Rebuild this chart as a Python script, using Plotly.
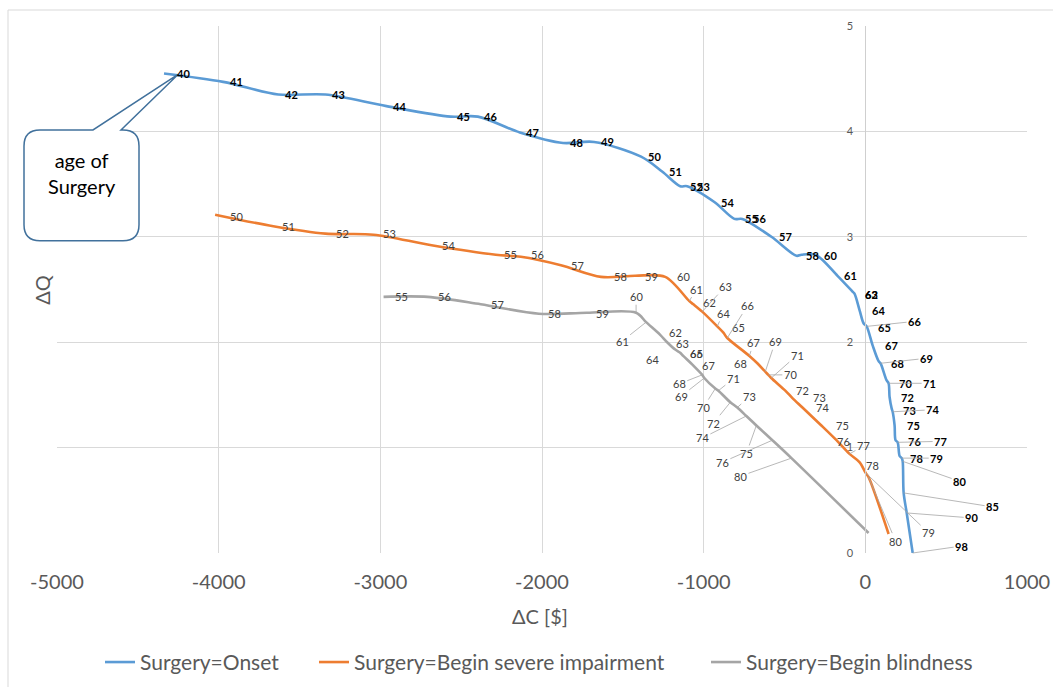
import plotly.graph_objects as go

# ---------------- data ----------------
onset_age = [40, 41, 42, 43, 44, 45, 46, 47, 48, 49, 50, 51, 52, 53, 54, 55, 56, 57, 58, 59,
             60, 61, 62, 63, 64, 65, 66, 67, 68, 69, 70, 71, 72, 73, 74, 75, 76, 77, 78, 79,
             80, 85, 90, 98]
onset_dC = [-4338, -3972, -3631, -3340, -2962, -2565, -2397, -2137, -1870, -1678, -1387, -1257,
            -1145, -1102, -934, -810, -761, -581, -426, -395, -308, -172, -79, -67, -35, -11, 8,
            45, 82, 94, 131, 144, 150, 163, 169, 181, 187, 200, 212, 225, 231, 237, 256, 293]
onset_dQ = [4.55, 4.47, 4.35, 4.35, 4.24, 4.14, 4.14, 3.99, 3.89, 3.90, 3.76, 3.62, 3.48, 3.48,
            3.33, 3.17, 3.17, 3.00, 2.82, 2.83, 2.83, 2.63, 2.48, 2.46, 2.30, 2.18, 2.15, 1.97,
            1.82, 1.80, 1.64, 1.61, 1.48, 1.37, 1.34, 1.21, 1.07, 1.05, 0.92, 0.90, 0.87, 0.57,
            0.38, 0.00]

severe_age = [50, 51, 52, 53, 54, 55, 56, 57, 58, 59, 60, 61, 62, 63, 64, 65, 66, 67, 68, 69,
              70, 71, 72, 73, 74, 75, 76, 77, 78, 79, 80, None]
severe_dC = [-4022, -3662, -3340, -3042, -2683, -2286, -2131, -1883, -1635, -1424, -1238, -1089,
             -1064, -1009, -916, -878, -854, -717, -668, -619, -600, -582, -495, -451, -389,
             -272, -185, -98, -35, 2, 20, 144]
severe_dQ = [3.21, 3.10, 3.03, 3.02, 2.92, 2.83, 2.81, 2.73, 2.62, 2.63, 2.62, 2.39, 2.36, 2.29,
             2.15, 2.09, 2.04, 1.87, 1.80, 1.72, 1.69, 1.66, 1.54, 1.47, 1.38, 1.21, 1.08, 0.94,
             0.86, 0.76, 0.72, 0.18]

blind_age = [55, 56, 57, 58, 59, 60, 61, 62, 63, 64, 65, 66, 67, 68, 69, 70, 71, 72, 73, 74,
             75, 76, 80, None]
blind_dC = [-2980, -2707, -2379, -2019, -1722, -1418, -1356, -1269, -1226, -1176, -1145, -1133,
            -1065, -1009, -996, -928, -909, -835, -792, -736, -674, -575, -457, 20]
blind_dQ = [2.43, 2.43, 2.36, 2.27, 2.28, 2.28, 2.19, 2.07, 2.00, 1.93, 1.90, 1.88, 1.78, 1.69,
            1.66, 1.56, 1.54, 1.43, 1.38, 1.30, 1.21, 1.07, 0.90, 0.19]

x_ticks = [-5000, -4000, -3000, -2000, -1000, 0, 1000]
x_tick_labels = ["-5000", "-4000", "-3000", "-2000", "-1000", "0", "1000"]
y_ticks = [0, 1, 2, 3, 4, 5]

series_names = ["Surgery=Onset", "Surgery=Begin severe impairment", "Surgery=Begin blindness"]

# ---------------- label placement (pixel offsets, styling only) ----------------
onset_lbl = {40: (19, 0), 52: (16, 0), 53: (16, 0), 55: (17, 0), 56: (17, 0), 57: (14, 0),
             58: (16, 0), 60: (15, 1), 62: (19, 3), 63: (17, 1), 64: (19, 0), 65: (21, 4),
             67: (19, 0), 68: (19, 2), 70: (19, 3), 72: (18, 0), 73: (18, 2), 75: (19, 0),
             76: (19, 1), 78: (17, 2),
             66: (48, -5), 69: (46, -5), 71: (41, 0), 74: (40, -2), 77: (43, -1), 79: (35, 0),
             80: (57, 20), 85: (89, 14), 90: (65, 5), 98: (49, -7)}
onset_leader = {66, 69, 71, 74, 77, 79, 80, 85, 90, 98}
onset_hidden = {59}

severe_lbl = {50: (21, 2), 51: (15, 0), 52: (17, 0), 53: (16, -1), 54: (17, 0), 55: (15, 0),
              56: (17, -2), 57: (17, 0), 58: (19, 0), 59: (16, 1), 60: (18, 0), 61: (7, -12),
              62: (16, -2), 63: (23, -25), 64: (6, -13), 65: (15, -5), 66: (20, -32),
              67: (4, -13), 68: (-17, 0), 69: (10, -30), 70: (22, 0), 71: (26, -23),
              72: (17, 0), 73: (27, -1), 74: (20, 0), 75: (21, 0), 76: (8, 2), 77: (14, -8),
              78: (13, 3), 79: (63, 60), 80: (27, 64)}
severe_leader = {61, 63, 64, 66, 67, 69, 70, 71, 77, 79, 80}

blind_lbl = {55: (18, 0), 56: (17, 0), 57: (17, 0), 58: (16, 0), 59: (16, 1), 60: (0, -16),
             61: (-24, 19), 62: (15, -2), 63: (15, 1), 64: (-23, 10), 65: (16, 1), 66: (14, -1),
             67: (15, 0), 68: (-23, 9), 69: (-23, 18), 70: (-12, 19), 71: (15, -12),
             72: (-17, 21), 73: (12, -11), 74: (-44, 22), 75: (-10, 28), 76: (-50, 22),
             80: (-51, 18)}
blind_leader = {60, 61, 68, 69, 70, 71, 72, 73, 74, 75, 76, 80}

colors = ["#5B9BD5", "#ED7D31", "#A5A5A5"]
legend_left_px = [100, 314, 706]
FONT = "Lato, 'Open Sans', sans-serif"

W, H = 1053, 687
ML, MR, MT, MB = 57, 26, 26, 133.5
PW, PH = W - ML - MR, H - MT - MB
XR, YR = [-5000, 1000], [0, 5]


def to_px(v, q):
    return (ML + (v - XR[0]) / (XR[1] - XR[0]) * PW, MT + (YR[1] - q) / (YR[1] - YR[0]) * PH)


def paper(px, py):
    return ((px - ML) / PW, (H - MB - py) / PH)


fig = go.Figure()
legend_keys = ["legend", "legend2", "legend3"]
for name, xs, ys, col, lk in zip(series_names, [onset_dC, severe_dC, blind_dC],
                                 [onset_dQ, severe_dQ, blind_dQ], colors, legend_keys):
    fig.add_trace(go.Scatter(x=xs, y=ys, mode="lines", name=name, legend=lk,
                             line=dict(color=col, width=2.6, shape="spline", smoothing=0.9),
                             hoverinfo="skip"))

annotations = []


def add_labels(ages, xs, ys, offs, leaders, hidden, font):
    for a, x, y in zip(ages, xs, ys):
        if a is None or a in hidden:
            continue
        dx, dy = offs.get(a, (13, 0))
        if a in leaders:
            annotations.append(dict(x=x, y=y, xref="x", yref="y", text=str(a), showarrow=True,
                                    arrowhead=0, arrowwidth=0.8, arrowcolor="#A6A6A6",
                                    ax=dx, ay=dy, standoff=0, font=font))
        else:
            annotations.append(dict(x=x, y=y, xref="x", yref="y", text=str(a), showarrow=False,
                                    xshift=dx, yshift=-dy, font=font))


add_labels(onset_age, onset_dC, onset_dQ, onset_lbl, onset_leader, onset_hidden,
           dict(family=FONT, size=11, color="#000000", weight="bold"))
add_labels(severe_age, severe_dC, severe_dQ, severe_lbl, severe_leader, set(),
           dict(family=FONT, size=11, color="#404040"))
add_labels(blind_age, blind_dC, blind_dQ, blind_lbl, blind_leader, set(),
           dict(family=FONT, size=11, color="#404040"))

# axis titles
tx, ty = paper(540, 617)
annotations.append(dict(x=tx, y=ty, xref="paper", yref="paper", text="ΔC [$]", showarrow=False,
                        xanchor="center", yanchor="middle",
                        font=dict(family=FONT, size=20, color="#595959")))
tx, ty = paper(42, 290)
annotations.append(dict(x=tx, y=ty, xref="paper", yref="paper", text="ΔQ", showarrow=False,
                        xanchor="center", yanchor="middle",
                        textangle=-90, font=dict(family=FONT, size=20, color="#595959")))

# callout "age of Surgery" pointing to first onset point
p40 = to_px(onset_dC[0], onset_dQ[0])
tip = (p40[0] + 14, p40[1] + 1)
L, R, T, B, rad = 24, 139, 130, 241, 16
pts = [("M", (L + rad, T)), ("L", (93, T)), ("L", tip), ("L", (121, T)), ("L", (R - rad, T)),
       ("Q", (R, T), (R, T + rad)), ("L", (R, B - rad)), ("Q", (R, B), (R - rad, B)),
       ("L", (L + rad, B)), ("Q", (L, B), (L, B - rad)), ("L", (L, T + rad)),
       ("Q", (L, T), (L + rad, T))]
path = ""
for seg in pts:
    cmd = seg[0]
    coords = " ".join("%.5f,%.5f" % paper(*c) for c in seg[1:])
    path += cmd + " " + coords + " "
path += "Z"
shapes = [dict(type="path", path=path, xref="paper", yref="paper",
               line=dict(color="#41719C", width=1.5), fillcolor="white", layer="above")]
cx, cy = paper((L + R) / 2, 173)
annotations.append(dict(x=cx, y=cy, xref="paper", yref="paper", text="age of<br>Surgery",
                        showarrow=False, xanchor="center", yanchor="middle",
                        font=dict(family=FONT, size=20, color="#000000")))

# outer chart border
bx0, by0 = paper(8, 10)
bx1, by1 = paper(W + 10, H + 10)
shapes.append(dict(type="rect", xref="paper", yref="paper", x0=bx0, y0=by1, x1=bx1, y1=by0,
                   line=dict(color="#D9D9D9", width=1), layer="below"))

legends = {}
for lk, lpx in zip(legend_keys, legend_left_px):
    lx, ly = paper(lpx, 663)
    legends[lk] = dict(orientation="h", x=lx, y=ly, xanchor="left", yanchor="middle",
                       font=dict(family=FONT, size=21, color="#595959"),
                       bgcolor="rgba(0,0,0,0)", borderwidth=0)

fig.update_layout(
    width=W, height=H, margin=dict(l=ML, r=MR, t=MT, b=MB, autoexpand=False),
    paper_bgcolor="white", plot_bgcolor="white",
    font=dict(family=FONT, color="#595959"),
    xaxis=dict(range=XR, tickvals=x_ticks, ticktext=x_tick_labels, showgrid=True,
               gridcolor="#D9D9D9", gridwidth=1, zeroline=False, showline=False, ticks="",
               automargin=False,
               tickfont=dict(family=FONT, size=20, color="#595959"), ticklabelstandoff=15),
    yaxis=dict(range=YR, tickvals=y_ticks, showgrid=True, gridcolor="#D9D9D9", gridwidth=1,
               zeroline=False, anchor="free", position=(0 - XR[0]) / (XR[1] - XR[0]),
               showline=True, linecolor="#CFCFCF", linewidth=1, ticks="", automargin=False,
               ticklabelstandoff=10,
               tickfont=dict(family=FONT, size=11, color="#595959")),
    showlegend=True,
    annotations=annotations, shapes=shapes,
    **legends,
)

fig.write_html("out.html")
